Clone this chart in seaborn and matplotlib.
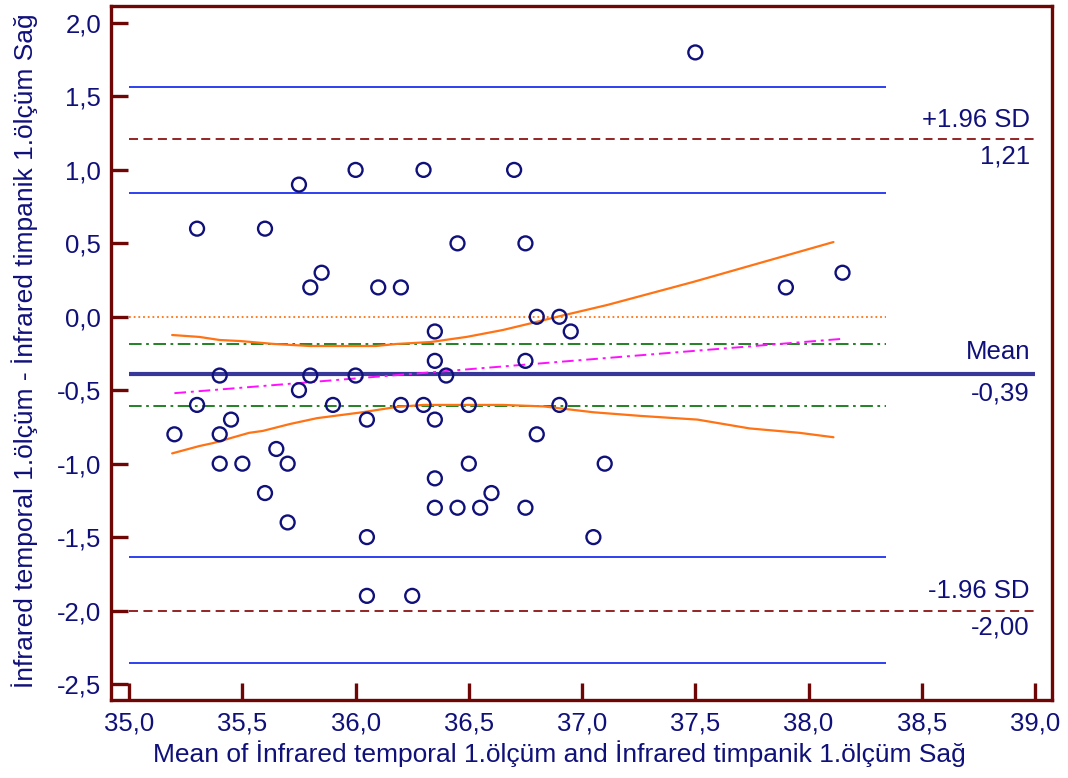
import matplotlib
matplotlib.use("Agg")
import matplotlib.pyplot as plt
import seaborn as sns
import pandas as pd

# ---------------- data ----------------
mean_x = [37.5, 35.3, 35.6, 35.75, 36.0, 36.3, 36.7, 35.85, 35.8, 36.1, 36.2, 36.45, 36.75,
          36.8, 36.9, 36.95, 36.35, 36.35, 36.75, 37.9, 38.15, 35.4, 35.8, 36.0, 36.4, 35.75,
          35.3, 35.9, 36.2, 36.3, 36.5, 36.9, 36.05, 36.35, 35.45, 35.2, 35.4, 36.8, 35.65,
          35.4, 35.5, 35.7, 36.5, 37.1, 35.6, 36.6, 36.35, 35.7, 36.35, 36.45, 36.55, 36.75,
          36.05, 37.05, 36.05, 36.25]
diff_y = [1.8, 0.6, 0.6, 0.9, 1.0, 1.0, 1.0, 0.3, 0.2, 0.2, 0.2, 0.5, 0.5,
          0.0, 0.0, -0.1, -0.1, -0.3, -0.3, 0.2, 0.3, -0.4, -0.4, -0.4, -0.4, -0.5,
          -0.6, -0.6, -0.6, -0.6, -0.6, -0.6, -0.7, -0.7, -0.7, -0.8, -0.8, -0.8, -0.9,
          -1.0, -1.0, -1.0, -1.0, -1.0, -1.2, -1.2, -1.1, -1.4, -1.3, -1.3, -1.3, -1.3,
          -1.5, -1.5, -1.9, -1.9]

reg_x = [35.2, 38.15]
reg_y = [-0.52, -0.15]

upper_ci_x = [35.19, 35.31, 35.40, 35.49, 35.64, 35.80, 36.09, 36.18, 36.33, 36.49, 36.65,
              36.78, 36.89, 37.11, 37.49, 38.11]
upper_ci_y = [-0.124, -0.137, -0.158, -0.165, -0.185, -0.199, -0.199, -0.185, -0.172, -0.137,
              -0.090, -0.042, 0.00, 0.08, 0.237, 0.509]
lower_ci_x = [35.19, 35.31, 35.37, 35.53, 35.59, 35.71, 35.83, 36.03, 36.18, 36.30, 36.65,
              36.83, 37.05, 37.26, 37.51, 37.74, 37.96, 38.11]
lower_ci_y = [-0.93, -0.88, -0.86, -0.79, -0.777, -0.73, -0.69, -0.65, -0.614, -0.60, -0.60,
              -0.61, -0.65, -0.675, -0.70, -0.76, -0.79, -0.82]

mean_diff = -0.39
upper_loa = 1.21
lower_loa = -2.00
mean_ci = [-0.185, -0.607]
loa_ci = [1.564, 0.843, -1.635, -2.357]
zero_line = 0.0
x_start = 35.0
x_short_end = 38.34
x_long_end = 39.0

x_ticks = [35.0, 35.5, 36.0, 36.5, 37.0, 37.5, 38.0, 38.5, 39.0]
x_tick_labels = ["35,0", "35,5", "36,0", "36,5", "37,0", "37,5", "38,0", "38,5", "39,0"]
y_ticks = [-2.5, -2.0, -1.5, -1.0, -0.5, 0.0, 0.5, 1.0, 1.5, 2.0]
y_tick_labels = ["-2,5", "-2,0", "-1,5", "-1,0", "-0,5", "0,0", "0,5", "1,0", "1,5", "2,0"]

right_labels = [("+1.96 SD", "1,21", upper_loa), ("Mean", "-0,39", mean_diff),
                ("-1.96 SD", "-2,00", lower_loa)]

x_title = "Mean of İnfrared temporal 1.ölçüm and İnfrared timpanik 1.ölçüm Sağ"
y_title = "İnfrared temporal 1.ölçüm - İnfrared timpanik 1.ölçüm Sağ"

# ---------------- style ----------------
sns.set_style("white")
plt.rcParams['font.family'] = ['Liberation Sans', 'DejaVu Sans']

NAVY = "#10107a"
MAROON = "#6e0606"
BLUE = "#1e32f0"
MEANC = "#38389a"
BROWN = "#8b1414"
GREEN = "#117711"
ORANGE = "#ff7314"
MAGENTA = "#ff10ff"
FS = 18.5
FT = 19

fig = plt.figure(figsize=(10.68, 7.78), dpi=100)
ax = fig.add_axes([111 / 1068, 1 - 700 / 778, 941 / 1068, 694 / 778])

df = pd.DataFrame({"x": mean_x, "y": diff_y})

# horizontal reference lines
ax.hlines(loa_ci, x_start, x_short_end, colors=BLUE, linewidth=1.3, zorder=2)
ax.hlines([upper_loa, lower_loa], x_start, x_long_end, colors=BROWN, linewidth=1.3,
          linestyles=(0, (5, 3)), zorder=2)
ax.hlines(mean_ci, x_start, x_short_end, colors=GREEN, linewidth=1.3,
          linestyles=(0, (7, 2.5, 1.5, 2.5)), zorder=2)
ax.hlines([zero_line], x_start, x_short_end, colors=ORANGE, linewidth=1.3,
          linestyles=(0, (1, 1.6)), zorder=2)
ax.hlines([mean_diff], x_start, x_long_end, colors=MEANC, linewidth=3.0, zorder=3)

# regression line and its confidence curves
sns.lineplot(x=reg_x, y=reg_y, ax=ax, color=MAGENTA, linewidth=1.4,
             linestyle=(0, (6, 2.5, 1.5, 2.5)), zorder=3)
sns.lineplot(x=upper_ci_x, y=upper_ci_y, ax=ax, color=ORANGE, linewidth=1.6, zorder=3,
             sort=False)
sns.lineplot(x=lower_ci_x, y=lower_ci_y, ax=ax, color=ORANGE, linewidth=1.6, zorder=3,
             sort=False)

# data points
sns.scatterplot(data=df, x="x", y="y", ax=ax, marker="o", s=100, facecolor="none",
                edgecolor=NAVY, linewidth=1.7, zorder=4)

ax.set_xlim(34.92, 39.075)
ax.set_ylim(-2.609, 2.116)
ax.set_xticks(x_ticks)
ax.set_xticklabels(x_tick_labels)
ax.set_yticks(y_ticks)
ax.set_yticklabels(y_tick_labels)
ax.tick_params(axis="both", direction="in", length=12, width=2.4, color=MAROON,
               labelcolor=NAVY, labelsize=FS, bottom=True, left=True,
               top=False, right=False)
ax.tick_params(axis="x", pad=8)
ax.tick_params(axis="y", pad=7)

for sp in ax.spines.values():
    sp.set_color(MAROON)
    sp.set_linewidth(2.4)
    sp.set_visible(True)

ax.set_xlabel(x_title, fontsize=FT, color=NAVY)
ax.set_ylabel(y_title, fontsize=FT, color=NAVY)
ax.xaxis.set_label_coords((559 - 111) / 941, (700 - 740) / 694)
ax.yaxis.set_label_coords((38 - 111) / 941, (700 - 351) / 694)

xr = (1030 - 111) / 941
for top_txt, bot_txt, val in right_labels:
    extra = 1.5 if top_txt == "Mean" else 0
    ax.annotate(top_txt, xy=(xr, val), xycoords=("axes fraction", "data"),
                xytext=(0, 9 + extra), textcoords="offset points", ha="right",
                va="baseline", fontsize=FS, color=NAVY)
    ax.annotate(bot_txt, xy=(xr, val), xycoords=("axes fraction", "data"),
                xytext=(0, -17.5 - extra), textcoords="offset points", ha="right",
                va="baseline", fontsize=FS, color=NAVY)

fig.savefig("out.png", dpi=100)
